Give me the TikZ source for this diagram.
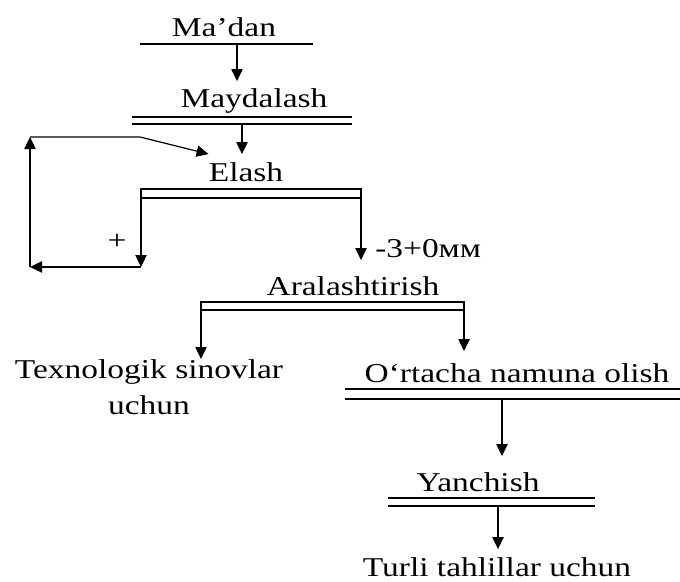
\documentclass[tikz,border=0pt]{standalone}
\usepackage{fontspec}
\setmainfont{Liberation Serif}[FakeStretch=1.23]
\usepackage{tikz}
\usetikzlibrary{arrows.meta,positioning}

\tikzset{
  lbl/.style={inner sep=0pt, font=\fontsize{20.4}{27}\selectfont},
  stage/.style={lbl, anchor=base, text height=20pt, text depth=0pt},
  arr/.style={-{Triangle[length=9pt,width=8.5pt]}, line width=0.9pt},
  bar/.style={line width=0.9pt},
}

\begin{document}
\begin{tikzpicture}[x=0.75pt,y=-0.75pt]
	\useasboundingbox (0,0) rectangle (680,581);

	% Draw the stages
	\node[stage] (madan)     at (224,37)  {Ma’dan};
	\node[stage] (maydalash) at (254,108) {Maydalash};
	\node[stage] (elash)     at (246,181) {Elash};
	\node[stage] (aral)      at (353,295) {Aralashtirish};
	\node[lbl, align=center, anchor=north] (texn) at (149,359) {Texnologik sinovlar\\uchun};
	\node[stage] (ortacha)   at (517,382) {O‘rtacha namuna olish};
	\node[stage] (yanch)     at (478,491) {Yanchish};
	\node[stage] (turli)     at (497,576) {Turli tahlillar uchun};

	% Bars under the stages
	\draw[bar] (140,44) -- (313,44);
	\draw[bar] (132,117) -- (352,117) (132,124) -- (352,124);
	\draw[bar] (141,189) rectangle (361,198);
	\draw[bar] (201,302) rectangle (464,310);
	\draw[bar] (345,389) -- (680,389) (345,399) -- (680,399);
	\draw[bar] (388,498) -- (595,498) (388,506) -- (595,506);

	% Points where the arrows leave the bars
	\coordinate (madanbar) at (237,44);
	\coordinate (maydbar)  at (242,124);
	\coordinate (elashL)   at (141,198);
	\coordinate (elashR)   at (361,198);
	\coordinate (aralL)    at (201,310);
	\coordinate (aralR)    at (464,310);
	\coordinate (ortbar)   at (502,399);
	\coordinate (yanbar)   at (498,506);

	% Return loop
	\coordinate (fbbot)  at (30,267);
	\coordinate (fbtop)  at (30,137);
	\coordinate (fbbend) at (140,137);

	% Connect the stages with arrows
	\draw[arr] (madanbar) -- (madanbar |- maydalash.north);
	\draw[arr] (maydbar) -- (maydbar |- elash.north);
	\draw[arr] (elashL) -- (elashL |- fbbot);
	\draw[arr] (elashR) -- ([yshift=6pt]elashR |- aral.north);
	\draw[arr] (elashL |- fbbot) -- (fbbot);
	\draw[arr] (fbbot) -- (fbtop);
	\draw[arr] (fbtop) -- (fbbend) -- (elash.north west);
	\draw[arr] (aralL) -- (aralL |- texn.north);
	\draw[arr] (aralR) -- ([yshift=3pt]aralR |- ortacha.north);
	\draw[arr] (ortbar) -- ([yshift=6pt]ortbar |- yanch.north);
	\draw[arr] (yanbar) -- (yanbar |- turli.north);

	% Size labels
	\node[lbl] (plus) at (117,242) {+};
	\node[lbl, anchor=base west] (minus) at (375,257) {-3+0мм};
\end{tikzpicture}
\end{document}
